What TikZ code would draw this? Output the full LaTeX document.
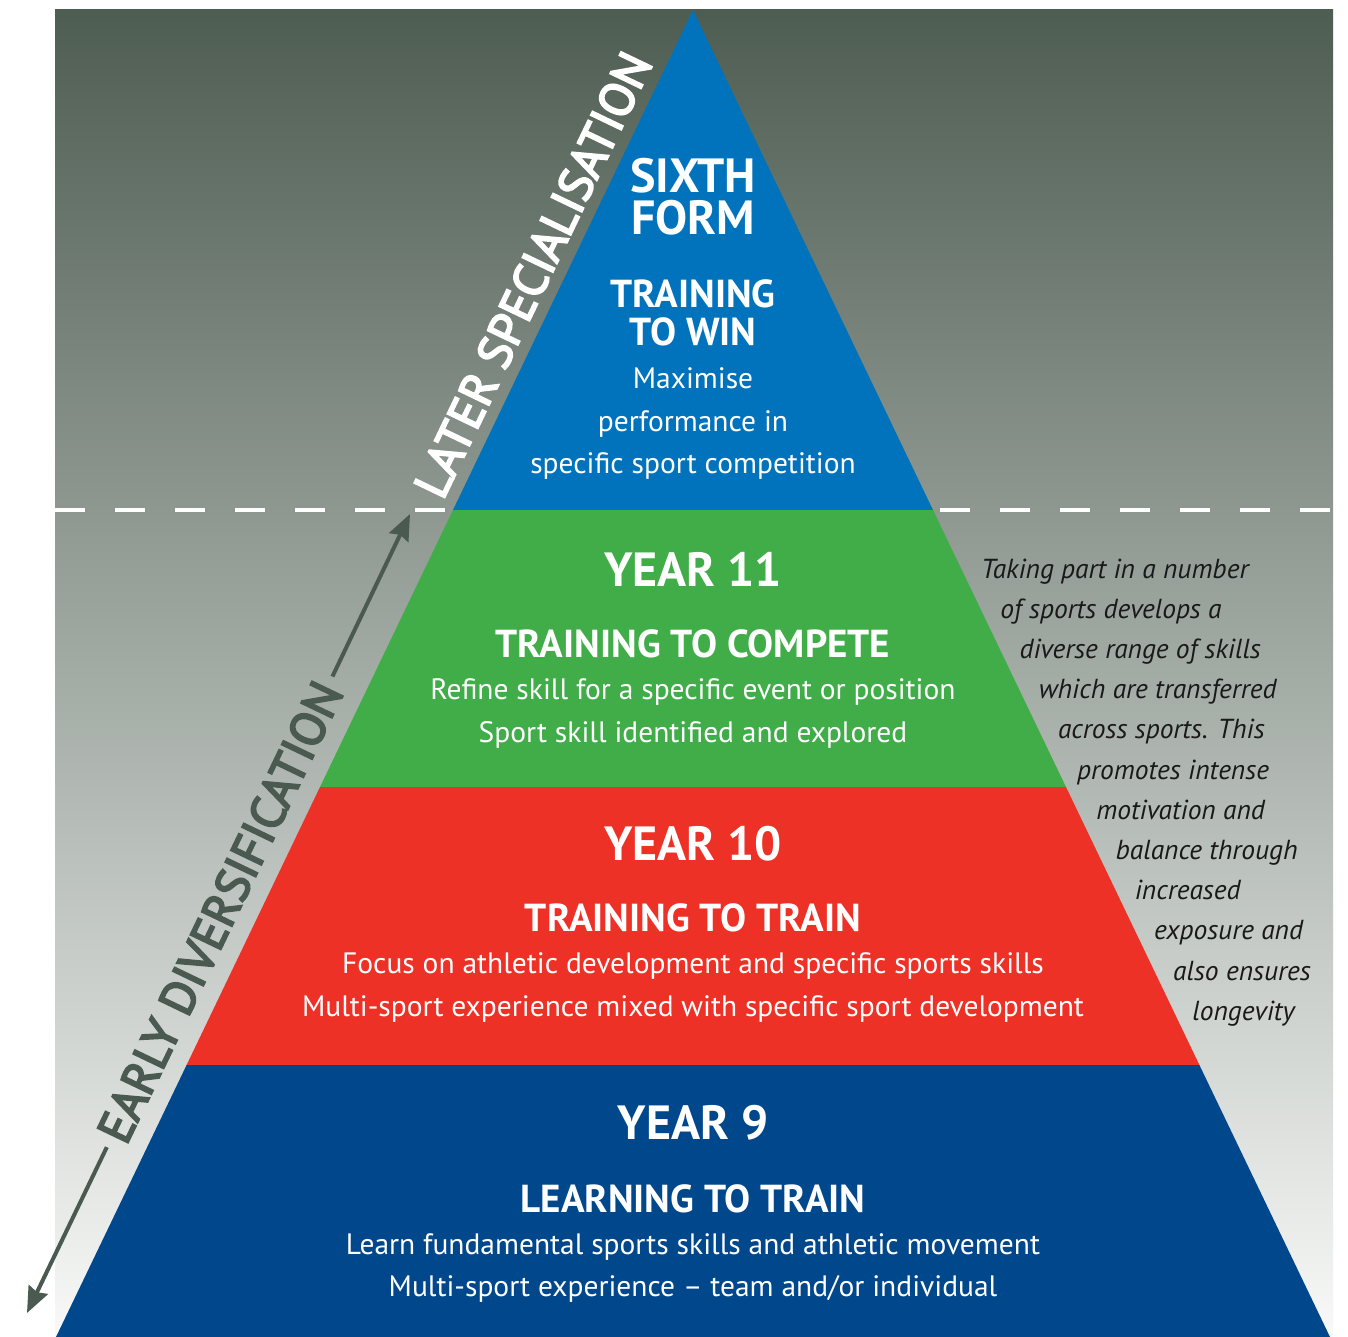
\documentclass[tikz,border=0pt]{standalone}
\usepackage{fontspec}
\setmainfont{PT Sans}
\newfontfamily\sidefont[FakeBold=4]{PT Sans}
\usetikzlibrary{arrows.meta}
\definecolor{bgtop}{RGB}{78,93,82}
\definecolor{bgmid}{RGB}{186,194,188}
\definecolor{bgbot}{RGB}{248,249,248}
\definecolor{sixthblue}{RGB}{0,115,188}
\definecolor{elevengreen}{RGB}{64,173,73}
\definecolor{tenred}{RGB}{238,49,39}
\definecolor{ninenavy}{RGB}{0,71,139}
\definecolor{arrowgrey}{RGB}{74,90,80}
\tikzset{
  head/.style={text=white, font=\bfseries\fontsize{48}{48}\selectfont, anchor=base, inner sep=0pt},
  sub/.style={text=white, font=\bfseries\fontsize{39}{39}\selectfont, anchor=base, inner sep=0pt},
  body/.style={text=white, font=\fontsize{29.5}{29.5}\selectfont, anchor=base, inner sep=0pt},
  note/.style={text=black!90, font=\itshape\fontsize{27.5}{27.5}\selectfont, anchor=base west, inner sep=0pt},
  side/.style={font=\sidefont\fontsize{48}{48}\selectfont, rotate=64.36, inner sep=0pt},
  arr/.style={draw=arrowgrey, line width=4pt, -{Stealth[length=26pt,width=21pt,inset=3pt]}},
  cut/.style={white, line width=4pt, dash pattern=on 30pt off 30pt},
}
\begin{document}
\begin{tikzpicture}[x=1pt,y=-1pt]
% 背景
\useasboundingbox (0,0) rectangle (1348,1337);
\fill[white] (0,0) rectangle (1348,1337);
\shade[top color=bgtop, middle color=bgmid, bottom color=bgbot] (55,10) rectangle (1333,1337);
% 破線
\draw[cut] (55,510) -- (453,510);
\draw[cut] (940,510) -- (1333,510);
% ピラミッド
\fill[sixthblue] (693,10) -- (933,510) -- (453,510) -- cycle;
\fill[elevengreen] (453,510) -- (933,510) -- (1066,787) -- (320,787) -- cycle;
\fill[tenred] (320,787) -- (1066,787) -- (1199.4,1065) -- (186.6,1065) -- cycle;
\fill[ninenavy] (186.6,1065) -- (1199.4,1065) -- (1330,1337) -- (56,1337) -- cycle;
% Sixth Form
\node[head] (sixth) at (693,193) {SIXTH};
\node[head] (form) at (693,235) {FORM};
\node[sub] (training) at (693,308) {TRAINING};
\node[sub] (towin) at (693,345) {TO WIN};
\node[body] (maxi) at (693,388) {Maximise};
\node[body] (perf) at (693,431) {performance in};
\node[body] (spec) at (693,473) {specific sport competition};
% Year 11
\node[head] (y11) at (693,586) {YEAR 11};
\node[sub] (compete) at (693,657) {TRAINING TO COMPETE};
\node[body] (refine) at (693,699) {Refine skill for a specific event or position};
\node[body] (sportskill) at (693,742) {Sport skill identified and explored};
% Year 10
\node[head] (y10) at (693,860) {YEAR 10};
\node[sub] (trainto) at (693,931) {TRAINING TO TRAIN};
\node[body] (focus) at (693,973) {Focus on athletic development and specific sports skills};
\node[body] (multi) at (693,1016) {Multi-sport experience mixed with specific sport development};
% Year 9
\node[head] (y9) at (693,1139) {YEAR 9};
\node[sub] (learn) at (693,1212) {LEARNING TO TRAIN};
\node[body] (fund) at (693,1254) {Learn fundamental sports skills and athletic movement};
\node[body] (team) at (693,1296) {Multi-sport experience -- team and/or individual};
% 右側の説明
\foreach \t [count=\i from 0] in {Taking part in a number, of sports develops a,
    diverse range of skills, which are transferred, across sports. This,
    promotes intense, motivation and, balance through, increased,
    exposure and, also ensures, longevity}
  \node[note] (note\i) at ({981+19.2*\i},{578+40.2*\i}) {\t};
% 斜めの文字と矢印
\node[side, text=white, anchor=base] (later) at (548,282) {LATER SPECIALISATION};
\coordinate (uptip) at (410,514);
\coordinate (downtip) at (27,1313);
\node[side, text=arrowgrey, inner xsep=9pt] (early) at (220,912) {EARLY DIVERSIFICATION};
\draw[arr] (early) -- (uptip);
\draw[arr] (early) -- (downtip);
\end{tikzpicture}
\end{document}
